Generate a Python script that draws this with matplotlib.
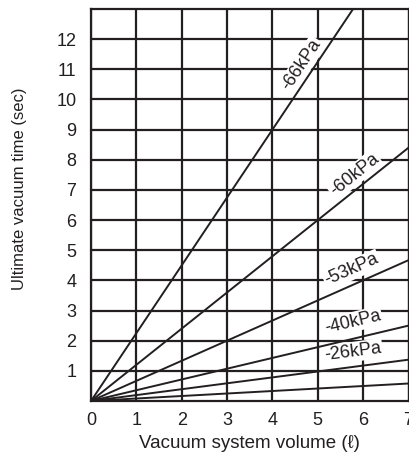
import numpy as np
import matplotlib.pyplot as plt

plt.rcParams['font.family'] = ['Liberation Sans', 'DejaVu Sans']

# vacuum system volume (l) and ultimate vacuum time (sec) at each end of the lines
volume = [0, 7]
labels = ['-66kPa', '-60kPa', '-53kPa', '-40kPa', '-26kPa', '']
time_at_7 = [15.75, 8.4, 4.67, 2.5, 1.37, 0.58]

# where each label sits (volume, time)
label_x = [4.65, 5.81, 5.75, 5.77, 5.77]
label_y = [11.14, 7.5, 4.35, 2.62, 1.63]

xticks = [0, 1, 2, 3, 4, 5, 6, 7]
yticks = [1, 2, 3, 4, 5, 6, 7, 8, 9, 10, 11, 12]

ink = '#231f20'
W, H = 409, 457
fig = plt.figure(figsize=(W / 100, H / 100), dpi=100)
ax = fig.add_axes([91 / W, 56 / H, 317.5 / W, 392 / H])

ax.set_xlim(0, 7)
ax.set_ylim(0, 13)
ax.set_xticks(xticks)
ax.set_yticks(yticks)
ax.tick_params(length=0, labelsize=13, colors=ink)
ax.tick_params(axis='x', pad=8)
ax.tick_params(axis='y', pad=10.5)
ax.grid(True, color=ink, lw=1.6, zorder=0)
ax.set_axisbelow(True)
for s in ax.spines.values():
    s.set_color(ink)
    s.set_linewidth(1.6)

for t in time_at_7:
    ax.plot(volume, [0, t], color=ink, lw=1.4, zorder=3)

# rotation matching the line in screen space
ppx = 317.5 / 7
ppy = 392 / 13
for lab, lx, ly, t in zip(labels, label_x, label_y, time_at_7):
    ang = np.degrees(np.arctan(t / 7 * ppy / ppx))
    ax.text(lx, ly, lab, rotation=ang, rotation_mode='anchor',
            ha='center', va='center', fontsize=13, color=ink,
            bbox=dict(facecolor='white', edgecolor='none', pad=1.0),
            zorder=2)

ax.set_xlabel('Vacuum system volume (ℓ)', fontsize=13.5, color=ink, labelpad=4)
ax.set_ylabel('Ultimate vacuum time (sec)', fontsize=12, color=ink)
ax.yaxis.set_label_coords(27 / W, 268 / H, transform=fig.transFigure)

fig.savefig('out.png', dpi=100)
